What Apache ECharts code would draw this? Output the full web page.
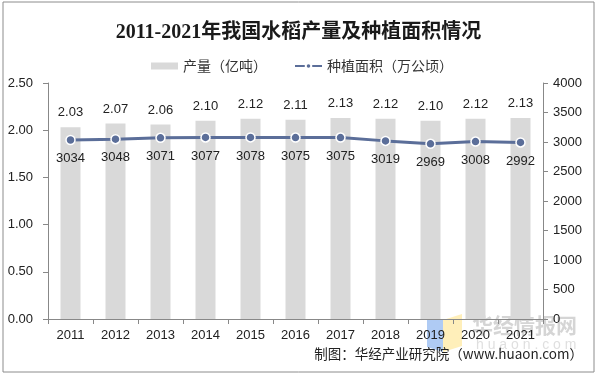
<!DOCTYPE html>
<html>
<head>
<meta charset="utf-8">
<script src="https://cdn.jsdelivr.net/npm/echarts@6/dist/echarts.min.js"></script>
<style>
html, body { margin: 0; padding: 0; background: #fff; }
#main { width: 597px; height: 375px; }
</style>
</head>
<body>
<div id="main"></div>
<script>
// 数据
var years = ['2011', '2012', '2013', '2014', '2015', '2016', '2017', '2018', '2019', '2020', '2021'];
var output = [2.03, 2.07, 2.06, 2.10, 2.12, 2.11, 2.13, 2.12, 2.10, 2.12, 2.13];
var area = [3034, 3048, 3071, 3077, 3078, 3075, 3075, 3019, 2969, 3008, 2992];
var leftTicks = [0, 0.5, 1, 1.5, 2, 2.5];
var rightTicks = [0, 500, 1000, 1500, 2000, 2500, 3000, 3500, 4000];

var font = '"Liberation Sans", Arial, "Noto Sans CJK SC", sans-serif';
var cjk = '"Noto Sans CJK SC", "Liberation Sans", sans-serif';

var myChart = echarts.init(document.getElementById('main'));

var option = {
	animation: false,
	title: {
		text: '2011-2021年我国水稻产量及种植面积情况',
		left: 'center',
		top: 18,
		textStyle: {
			fontFamily: '"Liberation Serif", "Noto Sans CJK SC", serif',
			fontSize: 20,
			fontWeight: 'bold',
			color: '#1a1a1a'
		}
	},
	legend: {
		top: 54,
		left: 146,
		itemGap: 27,
		itemWidth: 27,
		itemHeight: 7,
		textStyle: { fontFamily: cjk, fontSize: 14, color: '#333' },
		data: [
			{ name: '产量（亿吨）', icon: 'rect' },
			{ name: '种植面积（万公顷）' }
		]
	},
	grid: {
		left: 48,
		right: 54,
		top: 83,
		bottom: 56
	},
	xAxis: [
		{
			type: 'category',
			data: years,
			axisLine: { lineStyle: { color: '#888' } },
			axisTick: { show: true, lineStyle: { color: '#888' } },
			axisLabel: { fontFamily: font, fontSize: 13, color: '#222', margin: 10 }
		}
	],
	yAxis: [
		{
			type: 'value',
			min: leftTicks[0],
			max: leftTicks[leftTicks.length - 1],
			interval: 0.5,
			splitLine: { show: false },
			axisLine: { show: true, lineStyle: { color: '#888' } },
			axisTick: { show: true, length: 5, lineStyle: { color: '#888' } },
			axisLabel: {
				fontFamily: font, fontSize: 13, color: '#222', margin: 15,
				formatter: function(v) { return v.toFixed(2); }
			}
		},
		{
			type: 'value',
			position: 'right',
			min: rightTicks[0],
			max: rightTicks[rightTicks.length - 1],
			interval: 500,
			splitLine: { show: false },
			axisLine: { show: true, lineStyle: { color: '#888' } },
			axisTick: { show: true, length: 5, lineStyle: { color: '#888' } },
			axisLabel: {
				fontFamily: font, fontSize: 13, color: '#222', margin: 10,
				formatter: function(v) { return String(v); }
			}
		}
	],
	series: [
		{
			name: '产量（亿吨）',
			type: 'bar',
			data: output,
			barWidth: 20,
			itemStyle: { color: '#d9d9d9' },
			label: {
				show: true,
				position: 'top',
				distance: 8,
				fontFamily: font,
				fontSize: 13,
				color: '#222',
				formatter: function(p) { return p.value.toFixed(2); }
			}
		},
		{
			name: '种植面积（万公顷）',
			type: 'line',
			yAxisIndex: 1,
			data: area,
			symbol: 'circle',
			symbolSize: 9,
			lineStyle: { color: '#5b6e99', width: 3 },
			itemStyle: { color: '#5b6e99', borderColor: '#fff', borderWidth: 1.5 },
			label: {
				show: true,
				position: 'bottom',
				distance: 7,
				fontFamily: font,
				fontSize: 13,
				color: '#222'
			}
		}
	],
	graphic: [
		{
			type: 'rect',
			shape: { x: 3, y: 2, width: 591, height: 370 },
			style: { fill: 'none', stroke: '#8c8c8c', lineWidth: 1 },
			silent: true
		},
		// 水印 logo
		{
			type: 'polygon',
			z: -10,
			shape: { points: [[427, 315], [443, 320], [443, 352], [427, 347]] },
			style: { fill: 'rgba(110,160,235,0.55)' },
			silent: true
		},
		{
			type: 'polygon',
			z: -10,
			shape: { points: [[443, 320], [462, 314], [462, 346], [443, 352]] },
			style: { fill: 'rgba(255,225,130,0.55)' },
			silent: true
		},
		{
			type: 'text',
			z: -10,
			left: 472,
			top: 315,
			style: {
				text: '华经情报网',
				fontFamily: cjk,
				fontSize: 21,
				fontWeight: 'bold',
				fill: 'rgba(150,150,150,0.4)'
			},
			silent: true
		},
		{
			type: 'text',
			z: -10,
			left: 476,
			top: 338,
			style: {
				text: 'h u a o n . c o m',
				fontFamily: font,
				fontSize: 14,
				fill: 'rgba(150,150,150,0.3)'
			},
			silent: true
		},
		{
			type: 'text',
			right: 14,
			top: 347,
			style: {
				text: '制图：华经产业研究院（www.huaon.com）',
				fontFamily: cjk,
				fontSize: 13.5,
				fill: '#222'
			},
			silent: true
		}
	]
};

myChart.setOption(option);
</script>
</body>
</html>
